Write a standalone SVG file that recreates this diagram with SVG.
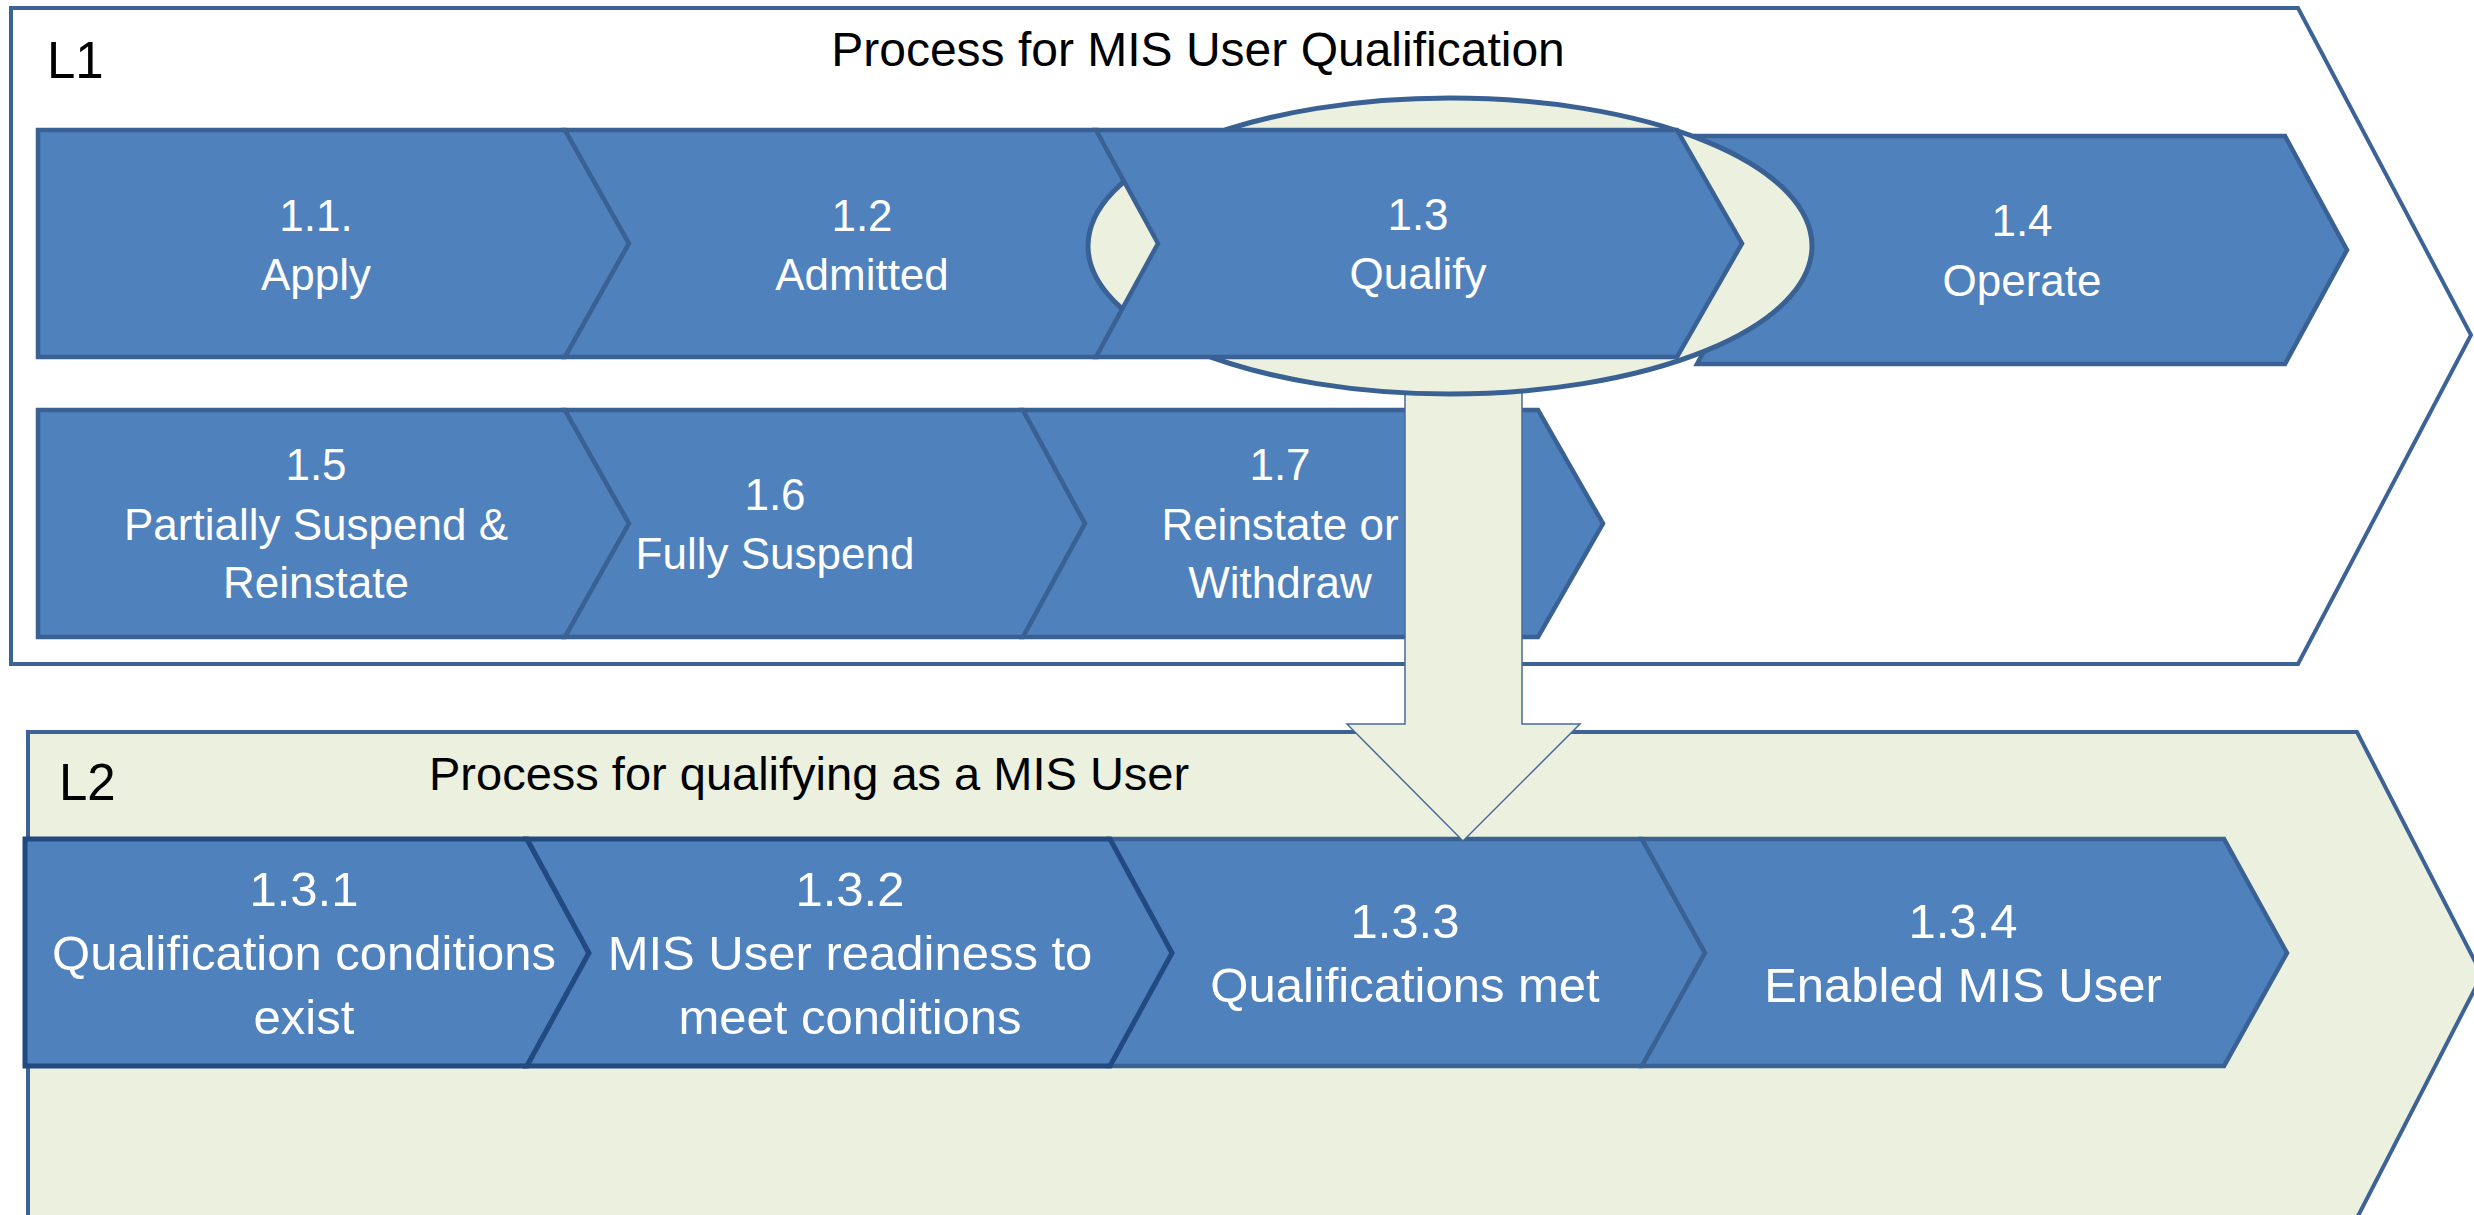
<svg xmlns="http://www.w3.org/2000/svg" width="2474" height="1215" viewBox="0 0 2474 1215">
<style>
.frame{stroke:#3D6396;stroke-width:4;stroke-linejoin:miter}
.chev{fill:#4F81BD;stroke:#3A6193;stroke-width:4.5;stroke-linejoin:miter}
.chevd{fill:#4F81BD;stroke:#224A80;stroke-width:5;stroke-linejoin:miter}
.lt{fill:#EBF0DF}
.t{font-family:"Liberation Sans",Arial,sans-serif;fill:#FFFFFF;text-anchor:middle}
.s1{font-size:44px}
.s2{font-size:49px}
.h{font-family:"Liberation Sans",Arial,sans-serif;fill:#000000}
</style>
<rect x="0" y="0" width="2474" height="1215" fill="#FFFFFF"/>
<g id="frame-L1">
<polygon class="frame" fill="#FFFFFF" points="11,8 2298,8 2471,335 2298,664 11,664"/>
<text class="h" x="47" y="78" font-size="51">L1</text>
<text class="h" x="1198" y="66" font-size="48" text-anchor="middle">Process for MIS User Qualification</text>
</g>
<g id="frame-L2">
<polygon class="frame lt" points="28,732 2357,732 2482,975 2357,1218 28,1218"/>
<text class="h" x="59" y="800" font-size="51">L2</text>
<text class="h" x="429" y="790" font-size="47">Process for qualifying as a MIS User</text>
</g>
<g id="n1-4">
<polygon class="chev" points="1697,136 2285,136 2347,250 2285,364 1697,364 1759,250"/>
<text class="t s1" x="2022" y="236">1.4</text>
<text class="t s1" x="2022" y="296">Operate</text>
</g>
<g id="n1-1">
<polygon class="chev" points="38,130 565,130 629,243.5 565,357 38,357"/>
<text class="t s1" x="316" y="231">1.1.</text>
<text class="t s1" x="316" y="290">Apply</text>
</g>
<g id="n1-2">
<polygon class="chev" points="565,130 1097,130 1157,243.5 1097,357 565,357 629,243.5"/>
<text class="t s1" x="862" y="231">1.2</text>
<text class="t s1" x="862" y="290">Admitted</text>
</g>
<g id="n1-5">
<polygon class="chev" points="38,410 565,410 629,523.5 565,637 38,637"/>
<text class="t s1" x="316" y="480">1.5</text>
<text class="t s1" x="316" y="540">Partially Suspend &amp;</text>
<text class="t s1" x="316" y="598">Reinstate</text>
</g>
<g id="n1-6">
<polygon class="chev" points="565,410 1023,410 1085,523.5 1023,637 565,637 629,523.5"/>
<text class="t s1" x="775" y="510">1.6</text>
<text class="t s1" x="775" y="569">Fully Suspend</text>
</g>
<g id="n1-7">
<polygon class="chev" points="1023,410 1538,410 1603,523.5 1538,637 1023,637 1085,523.5"/>
<text class="t s1" x="1280" y="480">1.7</text>
<text class="t s1" x="1280" y="540">Reinstate or</text>
<text class="t s1" x="1280" y="598">Withdraw</text>
</g>
<g id="n1-3-3">
<polygon class="chev" points="1110,839 1642,839 1705,953 1642,1066 1110,1066 1172,953"/>
<text class="t s2" x="1405" y="938">1.3.3</text>
<text class="t s2" x="1405" y="1002">Qualifications met</text>
</g>
<g id="n1-3-4">
<polygon class="chev" points="1642,839 2224,839 2287,953 2224,1066 1642,1066 1705,953"/>
<text class="t s2" x="1963" y="938">1.3.4</text>
<text class="t s2" x="1963" y="1002">Enabled MIS User</text>
</g>
<g id="n1-3-1">
<polygon class="chevd" points="25,839 527,839 589,953 527,1066 25,1066"/>
<text class="t s2" x="304" y="906">1.3.1</text>
<text class="t s2" x="304" y="970">Qualification conditions</text>
<text class="t s2" x="304" y="1034">exist</text>
</g>
<g id="n1-3-2">
<polygon class="chevd" points="527,839 1110,839 1172,953 1110,1066 527,1066 589,953"/>
<text class="t s2" x="850" y="906">1.3.2</text>
<text class="t s2" x="850" y="970">MIS User readiness to</text>
<text class="t s2" x="850" y="1034">meet conditions</text>
</g>
<g id="connectors">
<polygon class="lt" stroke="#4A6A98" stroke-width="1.5" points="1405,385 1522,385 1522,724 1580,724 1463,841 1347,724 1405,724"/>
</g>
<g id="highlight">
<ellipse class="lt" cx="1450" cy="246" rx="362" ry="148" stroke="#3A6193" stroke-width="5"/>
</g>
<g id="n1-3">
<polygon class="chev" points="1096,130 1677,130 1742,243.5 1677,357 1096,357 1158,243.5"/>
<text class="t s1" x="1418" y="230">1.3</text>
<text class="t s1" x="1418" y="289">Qualify</text>
</g>
</svg>
